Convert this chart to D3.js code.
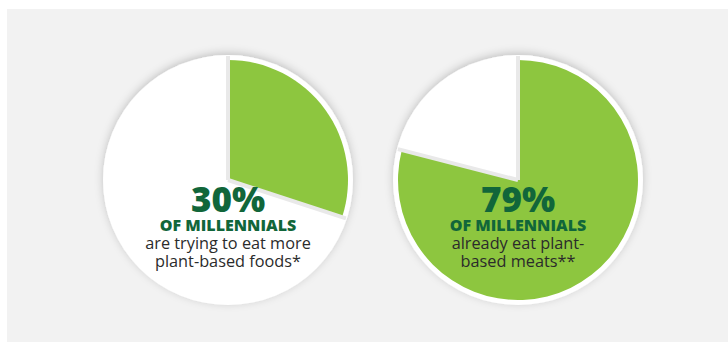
<!DOCTYPE html>
<html>
<head>
  <script src="https://d3js.org/d3.v7.min.js"></script>
  <style>
  body { margin: 0; background: #fff; }
  text { font-family: "Open Sans", sans-serif; }
  </style>
</head>
<body>
  <script>
  var w = 728;
  var h = 342;

  // chart values
  var shares = [30, 79];
  var bigLabels = ["30%", "79%"];
  var subLabels = ["OF MILLENNIALS", "OF MILLENNIALS"];
  var captions = [
    ["are trying to eat more", "plant-based foods*"],
    ["already eat plant-", "based meats**"]
  ];

  var green = "#8dc63f";
  var darkGreen = "#11663a";

  var svg = d3.select("body")
    .append("svg")
    .attr("width", w)
    .attr("height", h);

  //Soft shadow round each disc
  var defs = svg.append("defs");
  defs.append("filter")
    .attr("id", "shadow")
    .attr("x", "-20%").attr("y", "-20%")
    .attr("width", "140%").attr("height", "140%")
    .append("feDropShadow")
      .attr("dx", 0)
      .attr("dy", -2)
      .attr("stdDeviation", 4)
      .attr("flood-color", "#000")
      .attr("flood-opacity", 0.2);

  //Grey panel
  svg.append("rect")
    .attr("x", 7)
    .attr("y", 9)
    .attr("width", w - 7)
    .attr("height", h - 9)
    .attr("fill", "#f2f2f2");

  //One disc per share
  var x = d3.scalePoint()
    .domain(d3.range(shares.length))
    .range([228, 518]);

  var discR = 125;
  var sliceR = 120;

  var pie = d3.pie().sort(null).value(function(d){ return d; });
  var arc = d3.arc().innerRadius(0).outerRadius(sliceR);

  var charts = svg.selectAll("g.chart")
    .data(shares)
    .enter()
    .append("g")
      .attr("class", "chart")
      .attr("transform", function(d, i){ return "translate(" + x(i) + ",180)"; });

  charts.append("circle")
    .attr("r", discR)
    .attr("fill", "#fff")
    .attr("filter", "url(#shadow)");

  charts.each(function(v, i){
    var g = d3.select(this);
    var slices = pie([v, 100 - v]);

    g.selectAll("path.slice")
      .data(slices)
      .enter()
      .append("path")
        .attr("class", "slice")
        .attr("d", arc)
        .attr("fill", function(d, j){ return j == 0 ? green : "#fff"; });

    //Light grey gaps between the slices
    var cuts = [slices[0].startAngle, slices[0].endAngle];
    g.selectAll("line.cut")
      .data(cuts)
      .enter()
      .append("line")
        .attr("class", "cut")
        .attr("x1", 0).attr("y1", 0)
        .attr("x2", function(a){ return Math.sin(a) * (discR - 1); })
        .attr("y2", function(a){ return -Math.cos(a) * (discR - 1); })
        .style("stroke", "#e9e9e9")
        .style("stroke-width", "4px");

    g.append("text")
      .attr("y", 32)
      .attr("text-anchor", "middle")
      .attr("fill", darkGreen)
      .style("font-size", "35px")
      .style("font-weight", 800)
      .text(bigLabels[i]);

    g.append("text")
      .attr("y", 51)
      .attr("text-anchor", "middle")
      .attr("fill", darkGreen)
      .style("font-size", "16px")
      .style("font-weight", 800)
      .text(subLabels[i]);

    g.selectAll("text.cap")
      .data(captions[i])
      .enter()
      .append("text")
        .attr("class", "cap")
        .attr("y", function(d, k){ return 69 + k * 18; })
        .attr("text-anchor", "middle")
        .attr("fill", "#2b2b2b")
        .style("font-size", "16.3px")
        .text(function(d){ return d; });
  });
  </script>
</body>
</html>
